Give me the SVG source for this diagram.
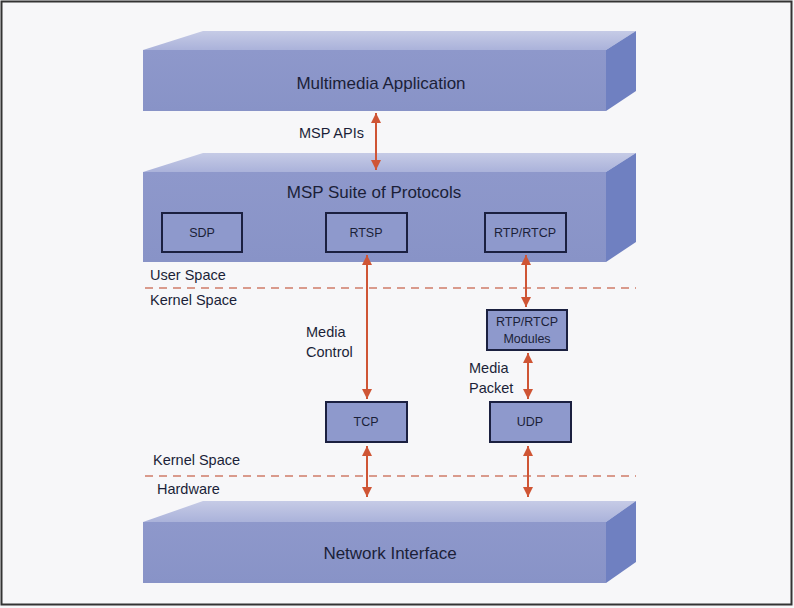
<svg xmlns="http://www.w3.org/2000/svg" width="794" height="608" viewBox="0 0 794 608">
<defs>
<linearGradient id="topg" x1="0" y1="0" x2="0" y2="1">
<stop offset="0" stop-color="#c6cbe6"/>
<stop offset="1" stop-color="#aab2da"/>
</linearGradient>
<linearGradient id="frontg" x1="0" y1="0" x2="0" y2="1">
<stop offset="0" stop-color="#8e98cb"/>
<stop offset="1" stop-color="#8893c7"/>
</linearGradient>
<marker id="ah" viewBox="0 0 10 10" refX="10" refY="5" markerWidth="5" markerHeight="5" orient="auto-start-reverse" markerUnits="strokeWidth">
<path d="M0,0 L10,5 L0,10 z" fill="#cf5535"/>
</marker>
<style>
.top{fill:url(#topg)}
.front{fill:url(#frontg)}
.side{fill:#6f80c1}
.box{fill:#8e99cc;stroke:#1b2040;stroke-width:2}
.t{font-family:"Liberation Sans",Arial,sans-serif;fill:#1b1f38}
.big{font-size:17px;text-anchor:middle}
.sm{font-size:12.5px;text-anchor:middle}
.lbl{font-size:14.5px}
.arr{stroke:#cf5535;stroke-width:2;fill:none;marker-start:url(#ah);marker-end:url(#ah)}
.dash{stroke:#d99a8c;stroke-width:2;stroke-dasharray:8 6;fill:none}
</style>
</defs>
<rect x="0" y="0" width="794" height="608" fill="#f7f7f9"/>
<rect x="1.5" y="1.5" width="790" height="603" fill="none" stroke="#333" stroke-width="2"/>

<g id="multimedia-application">
<polygon class="top" points="143,50 203,31 636,31 606,50"/>
<polygon class="side" points="606,50 636,31 636,91 606,111"/>
<rect class="front" x="143" y="50" width="463" height="61"/>
<text class="t big" x="381" y="89">Multimedia Application</text>
</g>

<g id="msp-suite">
<polygon class="top" points="143,172 203,153 636,153 606,172"/>
<polygon class="side" points="606,172 636,153 636,242 606,262"/>
<rect class="front" x="143" y="172" width="463" height="90"/>
<text class="t big" x="374" y="198">MSP Suite of Protocols</text>
</g>

<g id="sdp">
<rect class="box" x="162" y="213" width="80" height="39"/>
<text class="t sm" x="202" y="237">SDP</text>
</g>
<g id="rtsp">
<rect class="box" x="326" y="213" width="81" height="39"/>
<text class="t sm" x="366" y="237">RTSP</text>
</g>
<g id="rtp-rtcp">
<rect class="box" x="485" y="213" width="81" height="39"/>
<text class="t sm" x="525" y="237">RTP/RTCP</text>
</g>

<g id="rtp-rtcp-modules">
<rect class="box" x="487" y="310" width="80" height="40"/>
<text class="t sm" x="527" y="326">RTP/RTCP</text>
<text class="t sm" x="527" y="343">Modules</text>
</g>
<g id="tcp">
<rect class="box" x="326" y="402" width="81" height="40"/>
<text class="t sm" x="366" y="426">TCP</text>
</g>
<g id="udp">
<rect class="box" x="490" y="402" width="81" height="40"/>
<text class="t sm" x="530" y="426">UDP</text>
</g>

<g id="network-interface">
<polygon class="top" points="143,522 203,501 636,501 606,522"/>
<polygon class="side" points="606,522 636,501 636,562 606,583"/>
<rect class="front" x="143" y="522" width="463" height="61"/>
<text class="t big" x="390" y="559">Network Interface</text>
</g>

<g id="boundaries">
<line class="dash" x1="145" y1="288" x2="636" y2="288"/>
<line class="dash" x1="145" y1="476" x2="636" y2="476"/>
<text class="t lbl" x="150" y="280">User Space</text>
<text class="t lbl" x="150" y="305">Kernel Space</text>
<text class="t lbl" x="153" y="465">Kernel Space</text>
<text class="t lbl" x="157" y="494">Hardware</text>
</g>

<g id="connectors">
<line class="arr" x1="376" y1="113" x2="376" y2="170"/>
<line class="arr" x1="367" y1="255" x2="367" y2="399"/>
<line class="arr" x1="526" y1="255" x2="526" y2="307"/>
<line class="arr" x1="528" y1="353" x2="528" y2="399"/>
<line class="arr" x1="367" y1="446" x2="367" y2="497"/>
<line class="arr" x1="528" y1="446" x2="528" y2="497"/>
<text class="t lbl" x="364" y="138" text-anchor="end">MSP APIs</text>
<text class="t lbl" x="306" y="337">Media</text>
<text class="t lbl" x="306" y="357">Control</text>
<text class="t lbl" x="469" y="373">Media</text>
<text class="t lbl" x="469" y="393">Packet</text>
</g>
</svg>
